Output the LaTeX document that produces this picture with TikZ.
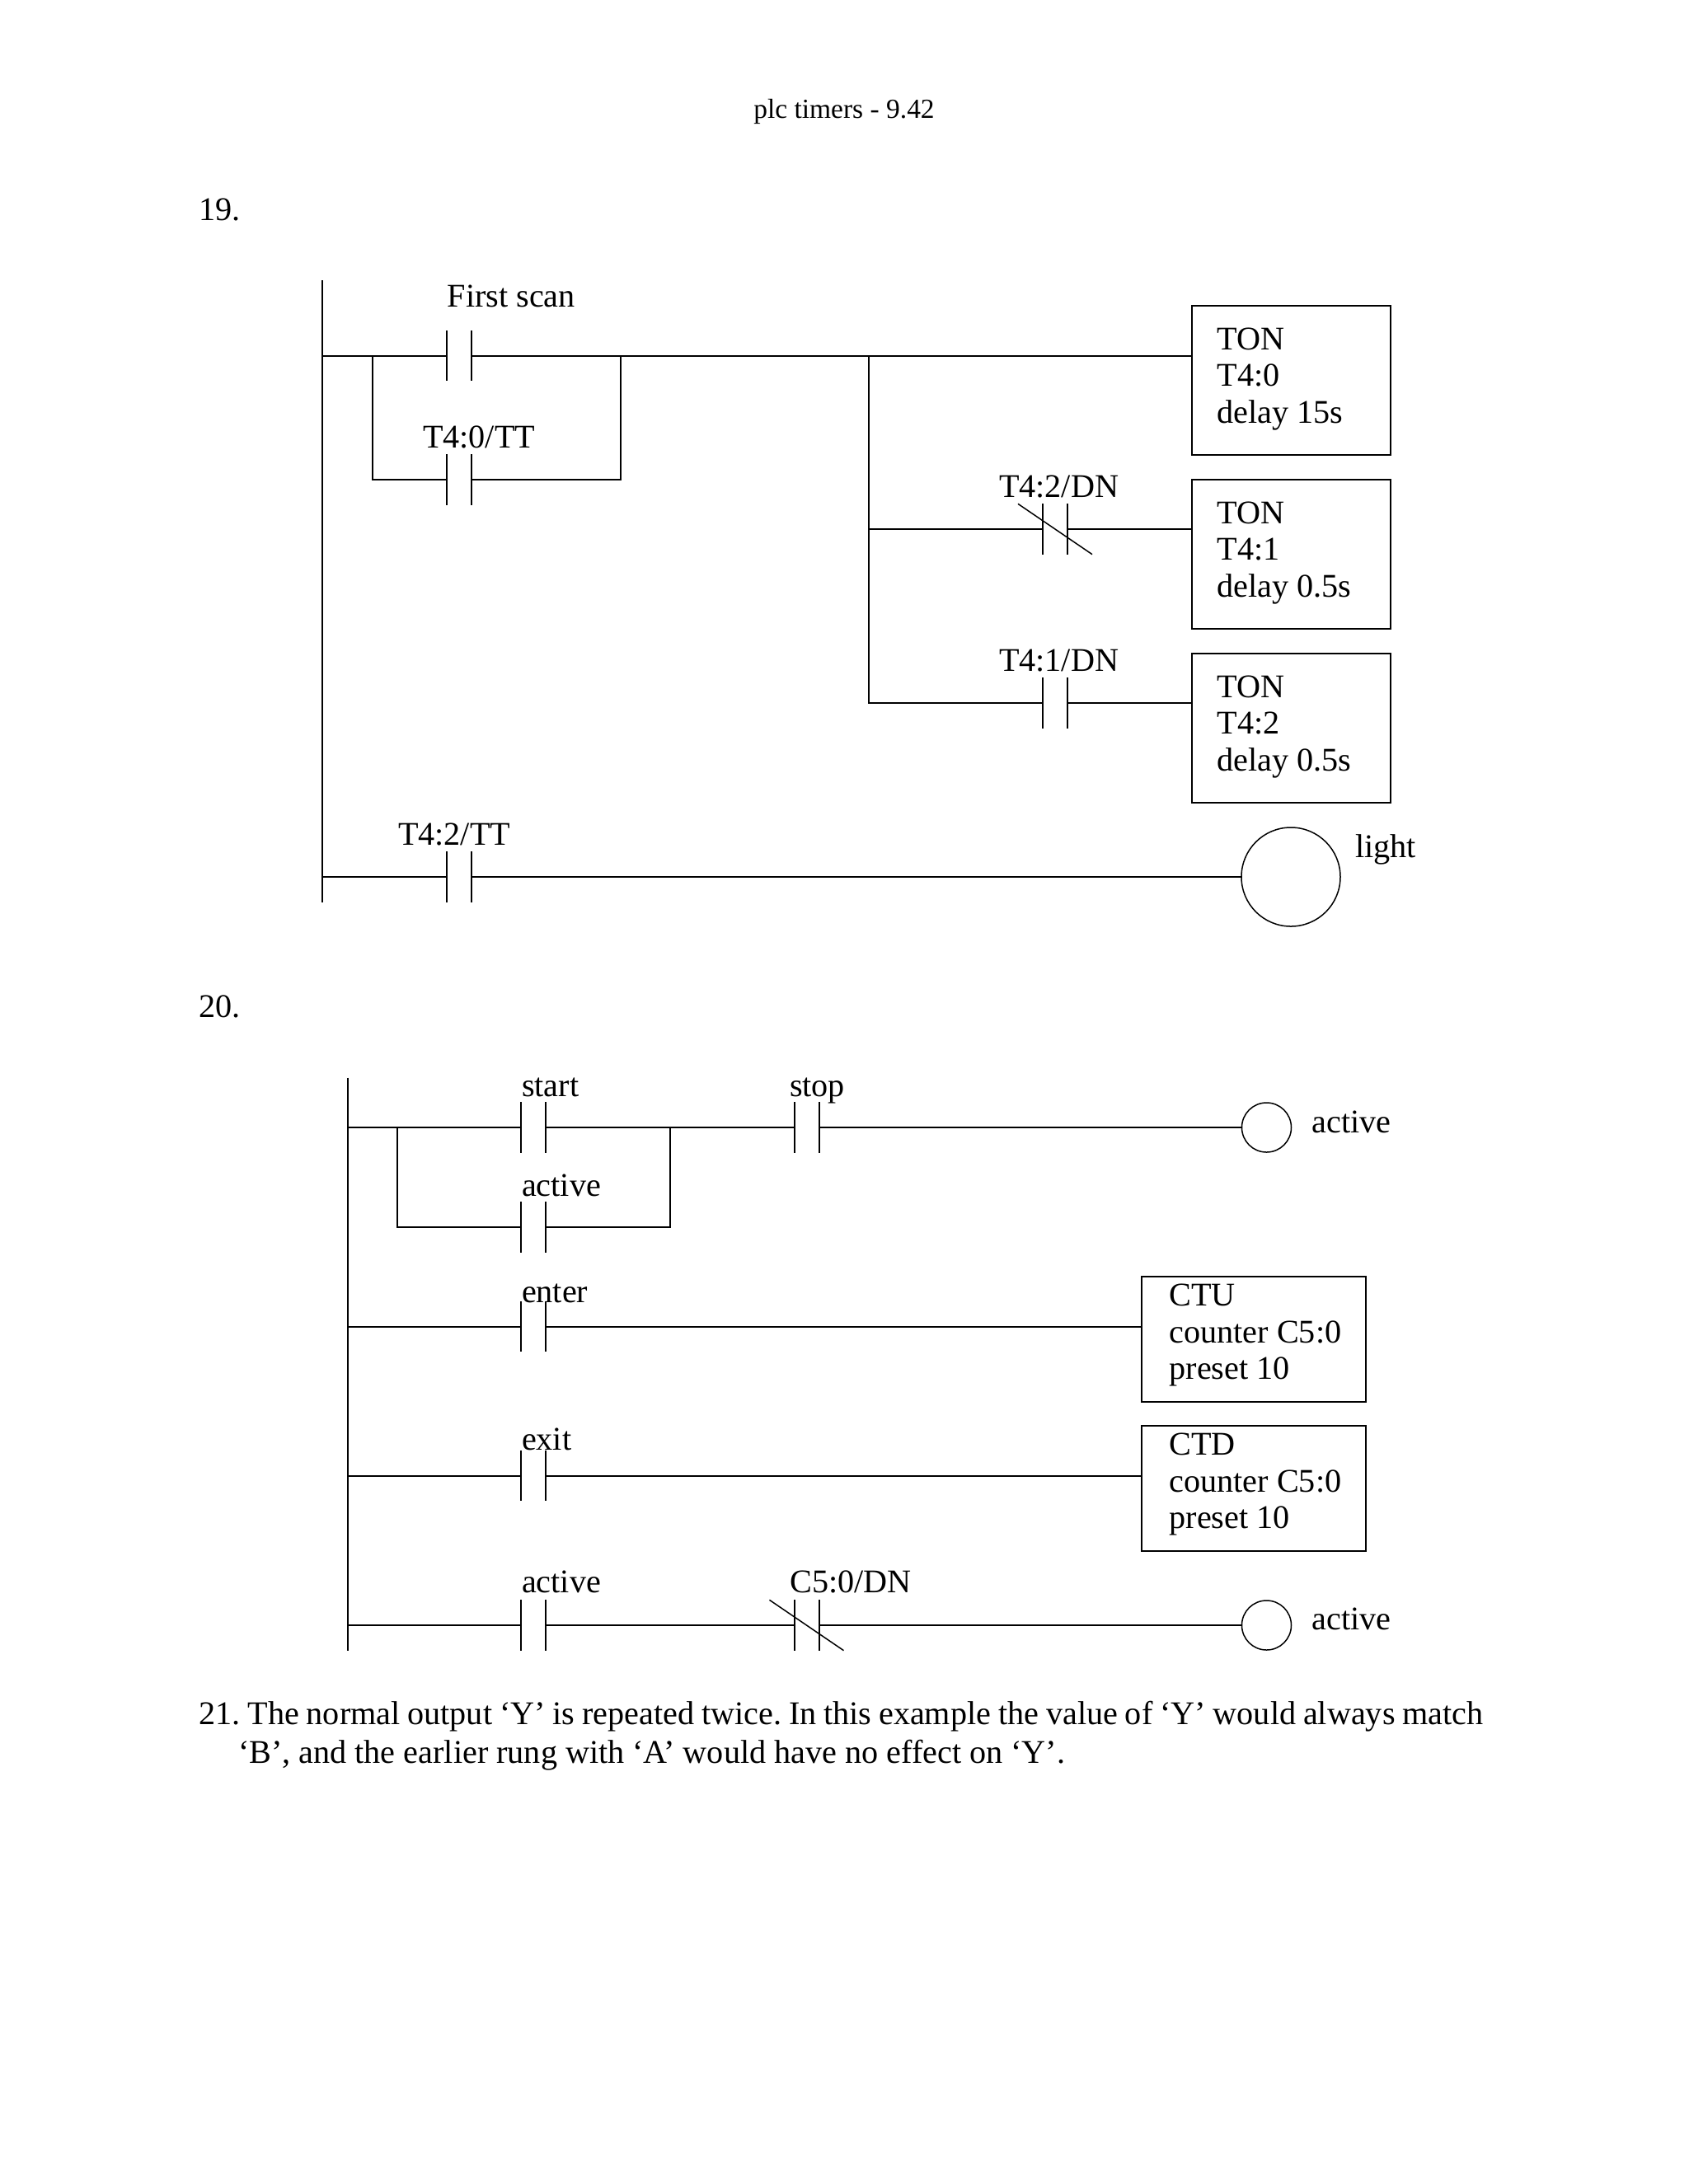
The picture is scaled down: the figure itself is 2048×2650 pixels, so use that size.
\documentclass[tikz,border=0pt]{standalone}
\usepackage{fontspec}
\setmainfont{Liberation Serif}
\usetikzlibrary{positioning}

\begin{document}
\frenchspacing
\begin{tikzpicture}[x=0.29995pt, y=-0.29995pt, line width=0.6pt,
	every node/.style={font=\fontsize{12.05}{13.35}\selectfont, inner sep=0pt, outer sep=0pt},
	lbl/.style={anchor=base west},
	contact/.style={rectangle, minimum width=9pt, minimum height=18.4pt,
		append after command={
			(\tikzlastnode.north west) edge[draw] (\tikzlastnode.south west)
			(\tikzlastnode.north east) edge[draw] (\tikzlastnode.south east)}},
	nccontact/.style={contact,
		append after command={
			([xshift=-9pt]\tikzlastnode.north west) edge[draw, line width=0.45pt] ([xshift=9pt]\tikzlastnode.south east)}},
	clas/.style={rectangle, draw, align=left, anchor=north west, inner xsep=9.3pt, text width=53.9pt, minimum height=54.3pt,
		execute at begin node={\spaceskip=0pt\xspaceskip=0pt},
		execute at end node={\endgraf\kern 1pt}},
	cntr/.style={clas, inner xsep=10pt, text width=61.4pt, minimum height=45.6pt,
		execute at end node={\endgraf\kern 2pt}},
	coil/.style={circle, draw, line width=0.45pt, minimum size=36pt},
	smallcoil/.style={coil, minimum size=18pt}
	]

\useasboundingbox (0,0) rectangle (2048,2650);

\node[font=\fontsize{10.04}{12}\selectfont, anchor=base] (head) at (1024,143) {plc timers - 9.42};
\node[lbl] (num19) at (241.5,267.5) {19.};
\node[lbl] (num20) at (241.5,1234.3) {20.};
\node[lbl] (note1) at (241.5,2092.5) {\spaceskip=0.22em 21. The normal output ‘Y’ is repeated twice. In this example the value of ‘Y’ would always match};
\node[lbl] (note2) at (289,2139.5) {‘B’, and the earlier rung with ‘A’ would have no effect on ‘Y’.};

\coordinate (rail1top) at (391.3,340);
\coordinate (rail1bot) at (391.3,1094.7);
\coordinate (brl1) at (451.7,431.7);
\coordinate (brr1) at (753,431.7);
\coordinate (jn1) at (1054.3,431.7);

\node[contact] (scan) at (557,431.7) {};
\node[contact, below=26.7pt of scan] (tt0) {};
\node[nccontact] (dn2) at (1280,642) {};
\node[contact, below=44.9pt of dn2] (dn1) {};
\node[contact] (tt2) at (557,1064) {};

\node[clas] (ton0) at (1445.7,370.7) {TON\\T4:0\\delay 15s};
\node[clas, below=9pt of ton0] (ton1) {TON\\T4:1\\delay 0.5s};
\node[clas, below=9pt of ton1] (ton2) {TON\\T4:2\\delay 0.5s};
\node[coil] (light) at (1566,1064) {};

\node[lbl] (lscan) at (542.7,372) {First scan};
\node[lbl] (ltt0) at (513,543) {T4:0/TT};
\node[lbl] (ldn2) at (1212,603) {T4:2/DN};
\node[lbl] (ldn1) at (1212,814.5) {T4:1/DN};
\node[lbl] (ltt2) at (483,1025.7) {T4:2/TT};
\node[lbl] (llight) at (1644,1040) {light};

\draw (rail1top) -- (rail1bot);
\draw (tt0.west) -| (brl1);
\draw (tt0.east) -| (brr1);
\draw (jn1) |- (dn2.west);
\draw (jn1) |- (dn1.west);

\path[draw]
(rail1top |- scan) edge (scan.west)
(scan.east) edge (ton0.west |- scan)
(dn2.east) edge (ton1.west |- dn2)
(dn1.east) edge (ton2.west |- dn1)
(rail1top |- tt2) edge (tt2.west)
(tt2.east) edge (light.west);

\coordinate (rail2top) at (421.5,1307.5);
\coordinate (rail2bot) at (421.5,2003);
\coordinate (brl2) at (482,1368);
\coordinate (brr2) at (813,1368);

\node[contact] (start) at (647.4,1368) {};
\node[contact, below=17.9pt of start] (hold) {};
\node[contact] (stop) at (978.5,1368) {};
\node[contact] (enter) at (647.4,1609.5) {};
\node[contact] (exit) at (647.4,1790.5) {};
\node[contact] (act) at (647.4,1972) {};
\node[nccontact] (dn5) at (978.5,1972) {};

\node[smallcoil] (out1) at (1536.5,1368) {};
\node[cntr] (ctu) at (1385.3,1549.3) {CTU\\\mbox{counter C5:0}\\preset 10};
\node[cntr, below=8.7pt of ctu] (ctd) {CTD\\\mbox{counter C5:0}\\preset 10};
\node[smallcoil] (out2) at (1536.5,1972) {};

\node[lbl] (lstart) at (633,1330.5) {start};
\node[lbl] (lstop) at (958,1330.5) {stop};
\node[lbl] (lhold) at (633,1451) {active};
\node[lbl] (lenter) at (633,1580.5) {enter};
\node[lbl] (lexit) at (633,1759.5) {exit};
\node[lbl] (lact) at (633,1932.4) {active};
\node[lbl] (ldn5) at (958.3,1932.4) {C5:0/DN};
\node[lbl] (lout1) at (1591.7,1374) {active};
\node[lbl] (lout2) at (1591.7,1977.3) {active};

\draw (rail2top) -- (rail2bot);
\draw (hold.west) -| (brl2);
\draw (hold.east) -| (brr2);

\path[draw]
(rail2top |- start) edge (start.west)
(start.east) edge (stop.west)
(stop.east) edge (out1.west)
(rail2top |- enter) edge (enter.west)
(enter.east) edge (ctu.west |- enter)
(rail2top |- exit) edge (exit.west)
(exit.east) edge (ctd.west |- exit)
(rail2top |- act) edge (act.west)
(act.east) edge (dn5.west)
(dn5.east) edge (out2.west);

\end{tikzpicture}
\end{document}
